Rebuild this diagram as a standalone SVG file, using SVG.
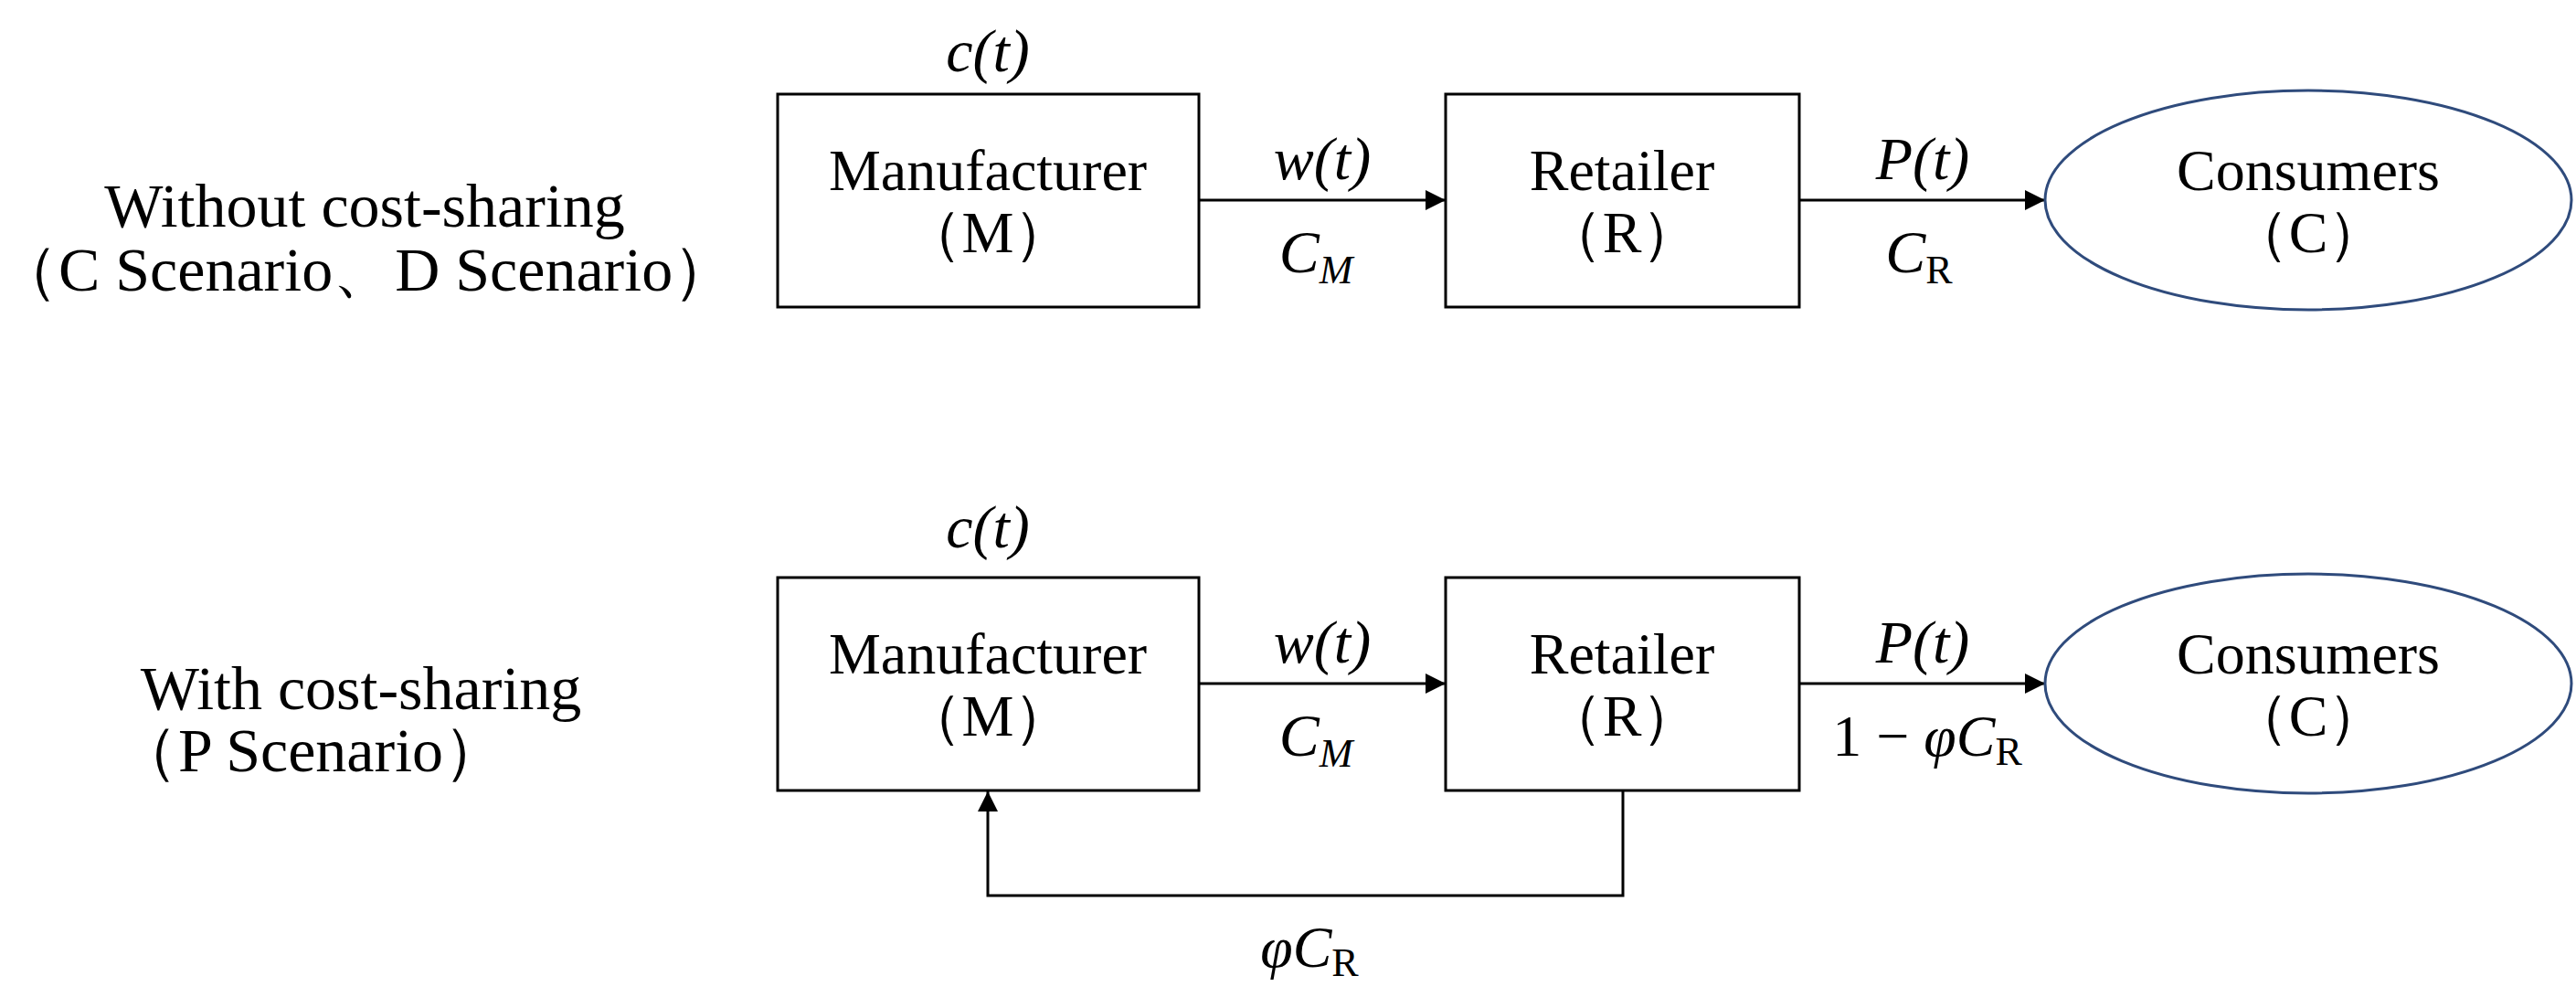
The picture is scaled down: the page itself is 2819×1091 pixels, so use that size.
<svg xmlns="http://www.w3.org/2000/svg" width="2819" height="1091" viewBox="0 0 2819 1091">
<style>
text{font-family:"Liberation Serif","Times New Roman",serif;fill:#000;text-anchor:middle}
.t{font-size:64px}
.l{font-size:68px}
.m{font-size:66px;font-style:italic}
.box{fill:#fff;stroke:#000;stroke-width:3}
.ell{fill:#fff;stroke:#2F4B7C;stroke-width:3}
.c{fill:none;stroke:#000;stroke-width:3}
</style>
<defs><marker id="ah" viewBox="0 0 10 10" refX="10" refY="5" markerWidth="26" markerHeight="22" orient="auto" markerUnits="userSpaceOnUse"><path d="M0,0L10,5L0,10z" fill="#000"/></marker></defs>
<g id="labels">
<text class="l" x="399" y="248">Without cost-sharing</text>
<text class="l" x="400" y="318">（C Scenario、D Scenario）</text>
<text class="l" x="395" y="776">With cost-sharing</text>
<text class="l" x="340" y="844">（P Scenario）</text>
<text class="m" x="1081" y="78">c(t)</text>
<text class="m" x="1081" y="599">c(t)</text>
</g>
<g id="connectors">
<line class="c" x1="1312" y1="219" x2="1582" y2="219" marker-end="url(#ah)"/>
<line class="c" x1="1969" y1="219" x2="2238" y2="219" marker-end="url(#ah)"/>
<line class="c" x1="1312" y1="748" x2="1582" y2="748" marker-end="url(#ah)"/>
<line class="c" x1="1969" y1="748" x2="2238" y2="748" marker-end="url(#ah)"/>
<path class="c" d="M1776,865V980H1081V866" marker-end="url(#ah)"/>
<text class="m" x="1447" y="196">w(t)</text>
<text class="m" x="1440" y="298">C<tspan font-size="44" dy="12">M</tspan></text>
<text class="m" x="2104" y="196">P(t)</text>
<text class="m" x="2100" y="298">C<tspan font-size="44" dy="12" font-style="normal">R</tspan></text>
<text class="m" x="1447" y="725">w(t)</text>
<text class="m" x="1440" y="827">C<tspan font-size="44" dy="12">M</tspan></text>
<text class="m" x="2104" y="725">P(t)</text>
<text class="t" x="2109" y="827">1 − <tspan font-style="italic">φC</tspan><tspan font-size="44" dy="10">R</tspan></text>
<text class="t" x="1433" y="1058"><tspan font-style="italic">φC</tspan><tspan font-size="44" dy="10">R</tspan></text>
</g>
<g id="M1"><rect class="box" x="851" y="103" width="461" height="233"/><text class="t" x="1081" y="208">Manufacturer</text><text class="t" x="1081" y="276">（M）</text></g>
<g id="R1"><rect class="box" x="1582" y="103" width="387" height="233"/><text class="t" x="1775" y="208">Retailer</text><text class="t" x="1775" y="276">（R）</text></g>
<g id="C1"><ellipse class="ell" cx="2526" cy="219" rx="288" ry="120"/><text class="t" x="2526" y="208">Consumers</text><text class="t" x="2526" y="276">（C）</text></g>
<g id="M2"><rect class="box" x="851" y="632" width="461" height="233"/><text class="t" x="1081" y="737">Manufacturer</text><text class="t" x="1081" y="805">（M）</text></g>
<g id="R2"><rect class="box" x="1582" y="632" width="387" height="233"/><text class="t" x="1775" y="737">Retailer</text><text class="t" x="1775" y="805">（R）</text></g>
<g id="C2"><ellipse class="ell" cx="2526" cy="748" rx="288" ry="120"/><text class="t" x="2526" y="737">Consumers</text><text class="t" x="2526" y="805">（C）</text></g>
</svg>
